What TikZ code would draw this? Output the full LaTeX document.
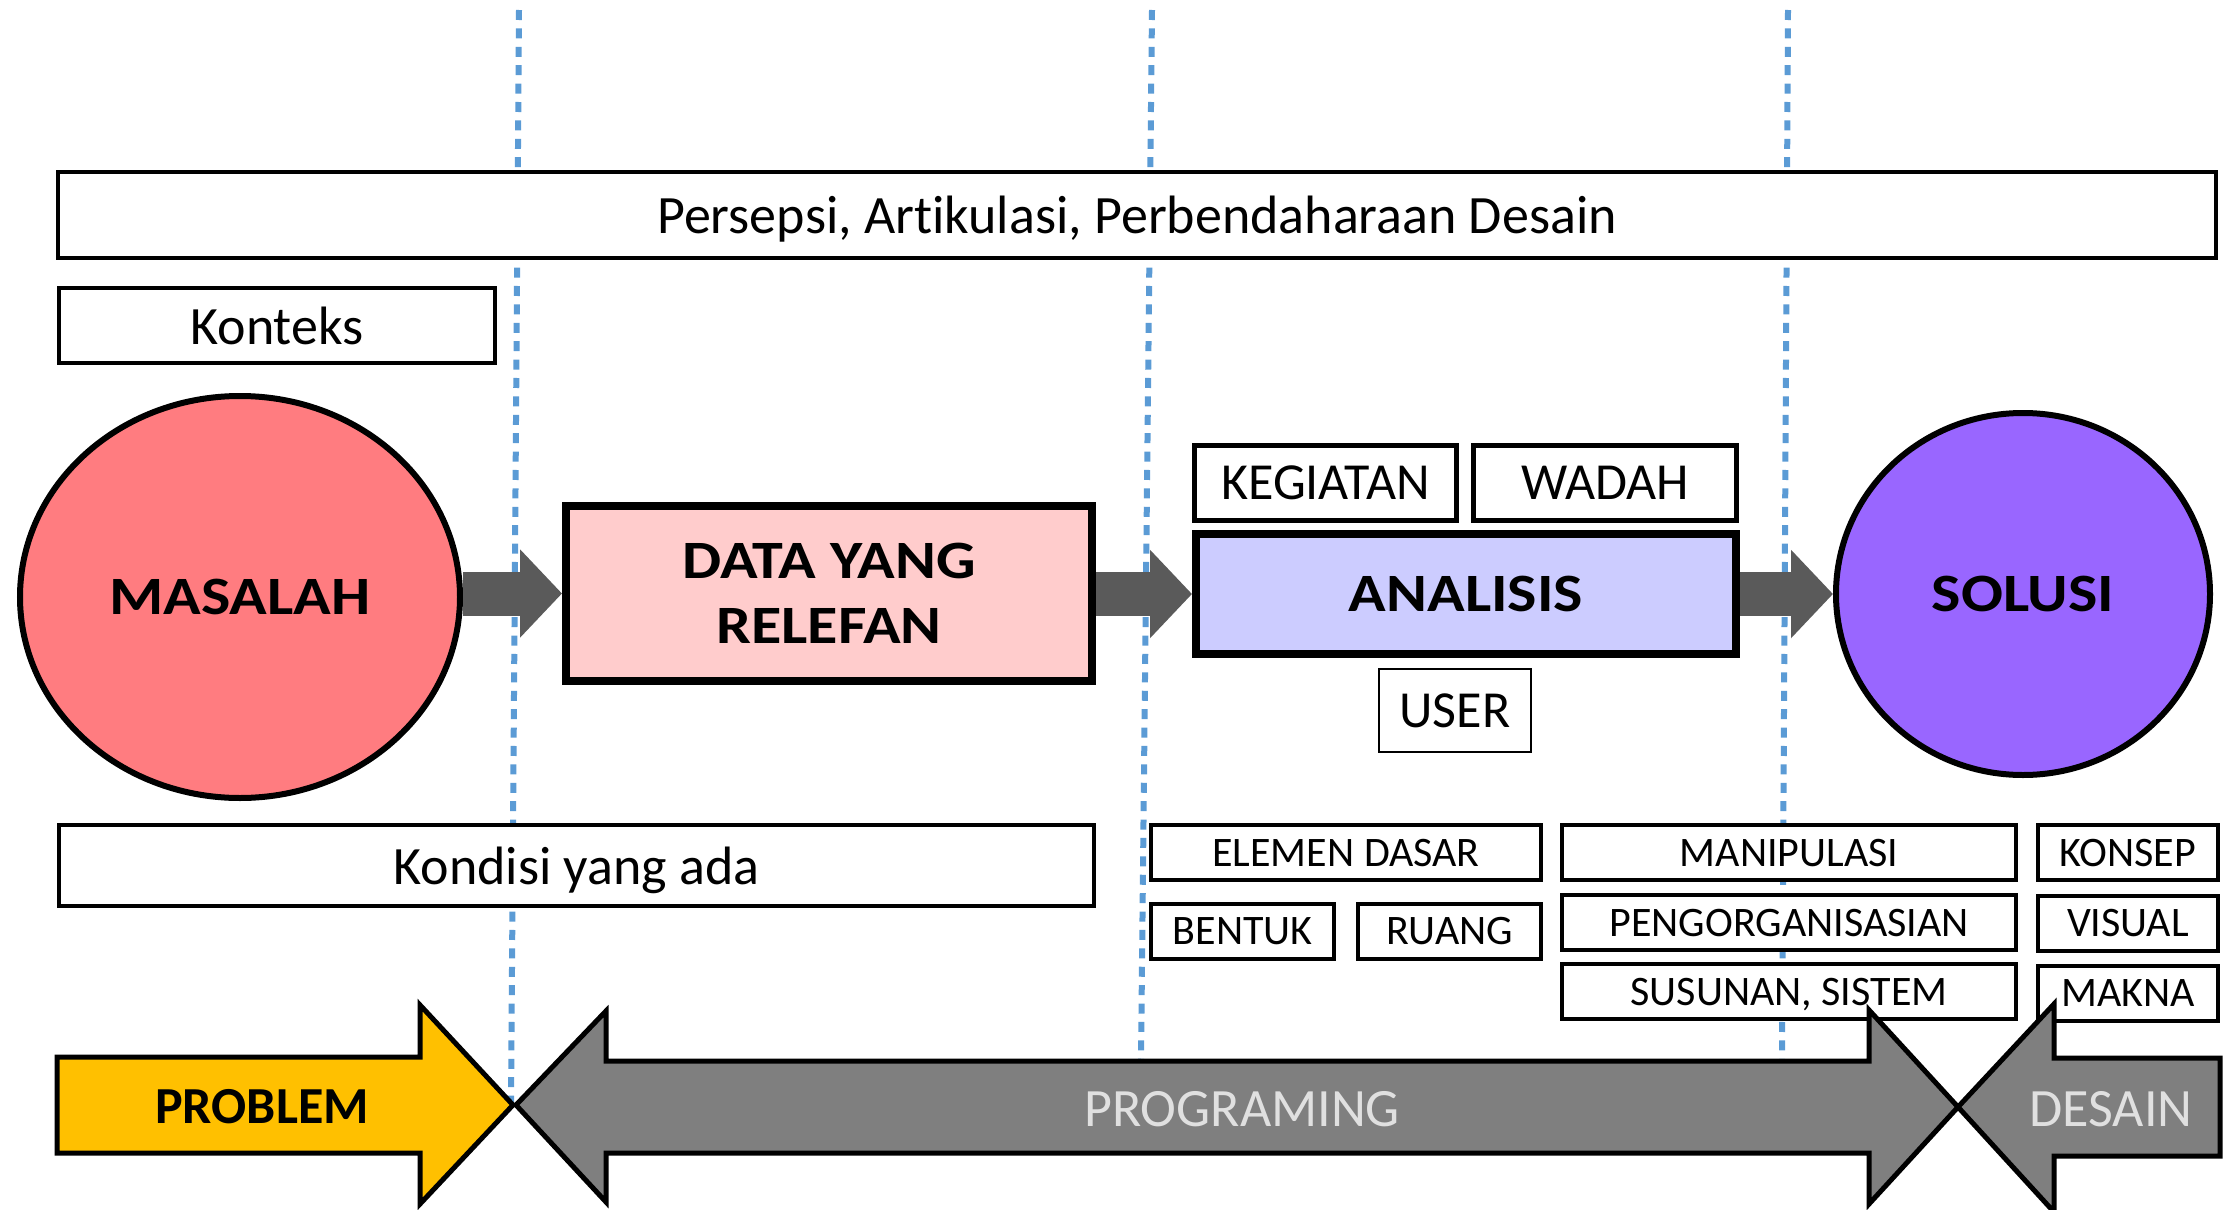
\documentclass[tikz,border=0pt]{standalone}
\usepackage{fontspec}
\setmainfont{Carlito}[Ligatures={NoCommon}]
\usepackage{graphicx}
\usetikzlibrary{shapes.geometric,arrows.meta}
\definecolor{dotblue}{HTML}{5B9BD5}
\definecolor{masalahfill}{HTML}{FF7C80}
\definecolor{datafill}{HTML}{FFCCCC}
\definecolor{analisisfill}{HTML}{CCCCFF}
\definecolor{solusifill}{HTML}{9966FF}
\definecolor{flowgray}{HTML}{5A5A5A}
\definecolor{bandgray}{HTML}{7F7F7F}
\definecolor{problemfill}{HTML}{FFC000}
\newcommand{\wideb}[1]{\scalebox{1.15}[1]{#1}}
\begin{document}
\begin{tikzpicture}[x=0.5pt,y=-0.5pt,
  box/.style={draw=black, line width=2pt, fill=white, inner sep=0pt, text depth=0pt,
    font=\fontsize{27pt}{32pt}\selectfont},
  smallbox/.style={box, minimum height=27.5pt,
    font=\fontsize{21pt}{25pt}\selectfont},
  bigbold/.style={draw=black, line width=4pt, inner sep=0pt, align=center,
    font=\fontsize{27pt}{32.5pt}\selectfont\bfseries},
  blob/.style={ellipse, draw=black, line width=3pt, inner sep=0pt,
    font=\fontsize{27pt}{32pt}\selectfont\bfseries},
  dotline/.style={dotblue, line width=3pt, dash pattern=on 5pt off 4.2pt},
  flow/.style={draw=flowgray, line width=22pt, -{Triangle[length=21pt,width=43pt]}},
  band/.style={draw=black, line width=2.5pt, line join=miter},
  bandtext/.style={inner sep=0pt, font=\fontsize{27pt}{32pt}\selectfont}
]
\useasboundingbox (0,0) rectangle (2234,1210);

% dotted phase separators
\draw[dotline] (519,10) -- (511,1105);
\draw[dotline] (1152,10) -- (1141,1060);
\draw[dotline] (1788,10) -- (1782,1060);

% top band and context boxes
\node[box, minimum width=1079pt, minimum height=43pt] (persepsi) at (1137,215)
  {Persepsi, Artikulasi, Perbendaharaan Desain};
\node[box, minimum width=218pt, minimum height=37.5pt] (konteks) at (277,325.5) {Konteks};

% main flow
\node[blob, fill=masalahfill, minimum width=220pt, minimum height=201pt] (masalah) at (240,597) {\wideb{MASALAH}};
\node[bigbold, fill=datafill, minimum width=263pt, minimum height=87.5pt] (data) at (829,593.5)
  {\wideb{DATA YANG}\\\wideb{RELEFAN}};
\node[bigbold, fill=analisisfill, minimum width=270pt, minimum height=60pt] (analisis) at (1466,594) {\wideb{ANALISIS}};
\node[blob, fill=solusifill, minimum width=187pt, minimum height=181pt] (solusi) at (2023,594) {\wideb{SOLUSI}};

\node[box, line width=2.5pt, minimum width=131pt, minimum height=37.5pt, font=\fontsize{26pt}{31pt}\selectfont] (kegiatan) at (1325.5,483) {KEGIATAN};
\node[box, line width=2.5pt, minimum width=131.5pt, minimum height=37.5pt, font=\fontsize{26pt}{31pt}\selectfont] (wadah) at (1605,483) {WADAH};
\node[box, line width=1pt, minimum width=76pt, minimum height=41.5pt, font=\fontsize{26pt}{31pt}\selectfont] (user) at (1455,710.5) {USER};

\draw[flow] (masalah.east |- data.west) -- (data.west);
\draw[flow] (data.east |- analisis.west) -- (analisis.west);
\draw[flow] (analisis.east) -- (solusi.west);

% lower boxes
\node[box, minimum width=517.5pt, minimum height=40.5pt] (kondisi) at (576.5,865.5) {Kondisi yang ada};
\node[smallbox, minimum width=195pt] (elemen) at (1346,852.5) {ELEMEN DASAR};
\node[smallbox, minimum width=91.5pt] (bentuk) at (1242.5,931) {BENTUK};
\node[smallbox, minimum width=91.5pt] (ruang) at (1449.5,931) {RUANG};
\node[smallbox, minimum width=227pt] (manipulasi) at (1789,852.5) {MANIPULASI};
\node[smallbox, minimum width=227pt] (pengorg) at (1789,922.5) {PENGORGANISASIAN};
\node[smallbox, minimum width=227pt] (susunan) at (1789,991.5) {SUSUNAN, SISTEM};
\node[smallbox, minimum width=90pt] (konsep) at (2128,852.5) {KONSEP};
\node[smallbox, minimum width=90pt] (visual) at (2128,923) {VISUAL};
\node[smallbox, minimum width=90pt] (makna) at (2128,993) {MAKNA};

% bottom phase arrows
\draw[band, fill=problemfill] (57,1057) -- (420,1057) -- (420,1005) -- (513,1105)
  -- (420,1204) -- (420,1153) -- (57,1153) -- cycle;
\draw[band, fill=bandgray] (516,1105) -- (606,1011) -- (606,1061) -- (1869,1061)
  -- (1869,1010) -- (1958,1107) -- (1869,1204) -- (1869,1153) -- (606,1153)
  -- (606,1202) -- cycle;
\draw[band, fill=bandgray] (1958,1107) -- (2054,1004) -- (2054,1058) -- (2220,1058)
  -- (2220,1156) -- (2054,1156) -- (2054,1212) -- cycle;
\node[bandtext, font=\fontsize{26pt}{31pt}\selectfont\bfseries] (problem) at (262,1107) {PROBLEM};
\node[bandtext, text=white!88!black] (programing) at (1242,1109) {PROGRAMING};
\node[bandtext, text=white!88!black] (desain) at (2111,1109) {DESAIN};
\end{tikzpicture}
\end{document}
